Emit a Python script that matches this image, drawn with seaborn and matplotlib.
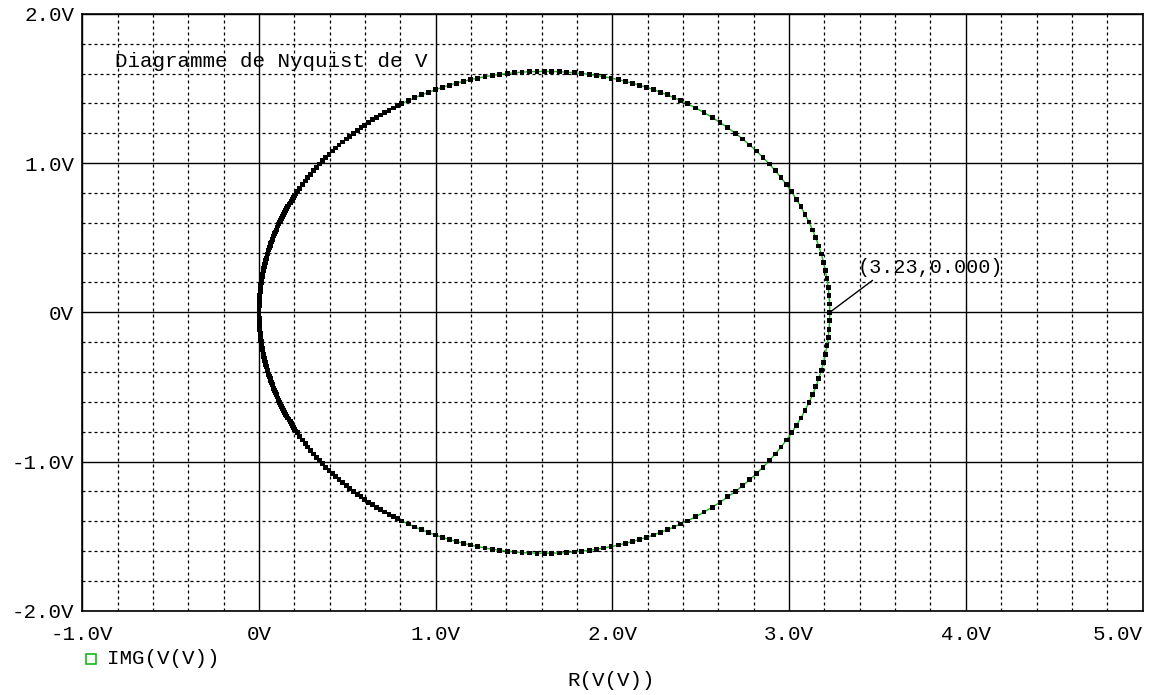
import pandas as pd
import matplotlib
matplotlib.use("Agg")
import matplotlib.pyplot as plt
from matplotlib.ticker import FixedLocator, MultipleLocator
from matplotlib.lines import Line2D
import seaborn as sns

# Nyquist trace of V: real and imaginary parts, low-frequency branch (Im > 0)
re_low_freq = [
    0.000, 0.000, 0.001, 0.001, 0.002, 0.002, 0.003, 0.004, 0.005, 0.006,
    0.007, 0.009, 0.010, 0.012, 0.014, 0.016, 0.018, 0.020, 0.022, 0.025,
    0.027, 0.030, 0.032, 0.035, 0.038, 0.041, 0.045, 0.048, 0.051, 0.055,
    0.059, 0.063, 0.067, 0.071, 0.075, 0.079, 0.083, 0.088, 0.093, 0.097,
    0.102, 0.107, 0.112, 0.118, 0.123, 0.128, 0.134, 0.140, 0.145, 0.151,
    0.157, 0.163, 0.170, 0.176, 0.182, 0.189, 0.196, 0.202, 0.209,
    0.216, 0.231, 0.245, 0.261, 0.276, 0.292, 0.308, 0.325, 0.342, 0.360,
    0.378, 0.396, 0.415, 0.434, 0.453, 0.473, 0.493, 0.514, 0.534, 0.556,
    0.577, 0.599, 0.621, 0.643, 0.666, 0.689, 0.712, 0.735, 0.759, 0.783,
    0.807, 0.844, 0.882, 0.920, 0.958, 0.997, 1.036, 1.076, 1.116, 1.156,
    1.197, 1.238, 1.279, 1.321, 1.362, 1.404, 1.446, 1.488, 1.530, 1.573,
    1.615, 1.657, 1.700, 1.742, 1.784, 1.826, 1.868, 1.909, 1.951, 1.992,
    2.033, 2.074, 2.114, 2.154, 2.194, 2.233, 2.272, 2.310, 2.348, 2.386,
    2.423, 2.471, 2.518, 2.564, 2.609, 2.653, 2.696, 2.737, 2.777, 2.815,
    2.852, 2.888, 2.922, 2.954, 2.985, 3.014, 3.041, 3.067, 3.090, 3.112,
    3.133, 3.151, 3.167, 3.182, 3.195, 3.205, 3.214, 3.221, 3.226, 3.229,
    3.230,
]
im_low_freq = [
    0.014, 0.028, 0.042, 0.056, 0.070, 0.085, 0.099, 0.113, 0.127, 0.141,
    0.155, 0.169, 0.183, 0.197, 0.211, 0.225, 0.239, 0.253, 0.267, 0.280,
    0.294, 0.308, 0.322, 0.336, 0.350, 0.363, 0.377, 0.391, 0.404, 0.418,
    0.432, 0.445, 0.459, 0.472, 0.486, 0.499, 0.512, 0.526, 0.539, 0.552,
    0.566, 0.579, 0.592, 0.605, 0.618, 0.631, 0.644, 0.657, 0.670, 0.683,
    0.695, 0.708, 0.721, 0.733, 0.746, 0.758, 0.771, 0.783, 0.795,
    0.808, 0.832, 0.856, 0.880, 0.903, 0.926, 0.949, 0.972, 0.994, 1.016,
    1.038, 1.060, 1.081, 1.101, 1.122, 1.142, 1.162, 1.181, 1.200, 1.219,
    1.237, 1.255, 1.273, 1.290, 1.307, 1.323, 1.339, 1.354, 1.370, 1.384,
    1.399, 1.419, 1.439, 1.458, 1.475, 1.492, 1.508, 1.522, 1.536, 1.548,
    1.560, 1.570, 1.580, 1.588, 1.595, 1.601, 1.606, 1.610, 1.613, 1.614,
    1.615, 1.614, 1.613, 1.610, 1.606, 1.601, 1.595, 1.588, 1.580, 1.570,
    1.560, 1.548, 1.536, 1.522, 1.508, 1.492, 1.475, 1.458, 1.439, 1.419,
    1.399, 1.370, 1.339, 1.307, 1.273, 1.237, 1.200, 1.162, 1.122, 1.081,
    1.038, 0.994, 0.949, 0.903, 0.856, 0.808, 0.758, 0.708, 0.657, 0.605,
    0.552, 0.499, 0.445, 0.391, 0.336, 0.280, 0.225, 0.169, 0.113, 0.056,
    0.000,
]

# High-frequency branch (Im < 0), continuing from the resonance point
re_high_freq = [
    3.229, 3.226, 3.221, 3.214, 3.205, 3.195, 3.182, 3.167, 3.151, 3.133,
    3.112, 3.090, 3.067, 3.041, 3.014, 2.985, 2.954, 2.922, 2.888, 2.852,
    2.815, 2.777, 2.737, 2.696, 2.653, 2.609, 2.564, 2.518, 2.471, 2.423,
    2.386, 2.348, 2.310, 2.272, 2.233, 2.194, 2.154, 2.114, 2.074, 2.033,
    1.992, 1.951, 1.909, 1.868, 1.826, 1.784, 1.742, 1.700, 1.657, 1.615,
    1.573, 1.530, 1.488, 1.446, 1.404, 1.362, 1.321, 1.279, 1.238, 1.197,
    1.156, 1.116, 1.076, 1.036, 0.997, 0.958, 0.920, 0.882, 0.844, 0.807,
    0.783, 0.759, 0.735, 0.712, 0.689, 0.666, 0.643, 0.621, 0.599, 0.577,
    0.556, 0.534, 0.514, 0.493, 0.473, 0.453, 0.434, 0.415, 0.396, 0.378,
    0.360, 0.342, 0.325, 0.308, 0.292, 0.276, 0.261, 0.245, 0.231, 0.216,
    0.209, 0.202, 0.196, 0.189, 0.182, 0.176, 0.170, 0.163, 0.157, 0.151,
    0.145, 0.140, 0.134, 0.128, 0.123, 0.118, 0.112, 0.107, 0.102, 0.097,
    0.093, 0.088, 0.083, 0.079, 0.075, 0.071, 0.067, 0.063, 0.059, 0.055,
    0.051, 0.048, 0.045, 0.041, 0.038, 0.035, 0.032, 0.030, 0.027, 0.025,
    0.022, 0.020, 0.018, 0.016, 0.014, 0.012, 0.010, 0.009, 0.007, 0.006,
    0.005, 0.004, 0.003, 0.002, 0.002, 0.001, 0.001, 0.000, 0.000,
]
im_high_freq = [
    -0.056, -0.113, -0.169, -0.225, -0.280, -0.336, -0.391, -0.445, -0.499, -0.552,
    -0.605, -0.657, -0.708, -0.758, -0.808, -0.856, -0.903, -0.949, -0.994, -1.038,
    -1.081, -1.122, -1.162, -1.200, -1.237, -1.273, -1.307, -1.339, -1.370, -1.399,
    -1.419, -1.439, -1.458, -1.475, -1.492, -1.508, -1.522, -1.536, -1.548, -1.560,
    -1.570, -1.580, -1.588, -1.595, -1.601, -1.606, -1.610, -1.613, -1.614, -1.615,
    -1.614, -1.613, -1.610, -1.606, -1.601, -1.595, -1.588, -1.580, -1.570, -1.560,
    -1.548, -1.536, -1.522, -1.508, -1.492, -1.475, -1.458, -1.439, -1.419, -1.399,
    -1.384, -1.370, -1.354, -1.339, -1.323, -1.307, -1.290, -1.273, -1.255, -1.237,
    -1.219, -1.200, -1.181, -1.162, -1.142, -1.122, -1.101, -1.081, -1.060, -1.038,
    -1.016, -0.994, -0.972, -0.949, -0.926, -0.903, -0.880, -0.856, -0.832, -0.808,
    -0.795, -0.783, -0.771, -0.758, -0.746, -0.733, -0.721, -0.708, -0.695, -0.683,
    -0.670, -0.657, -0.644, -0.631, -0.618, -0.605, -0.592, -0.579, -0.566, -0.552,
    -0.539, -0.526, -0.512, -0.499, -0.486, -0.472, -0.459, -0.445, -0.432, -0.418,
    -0.404, -0.391, -0.377, -0.363, -0.350, -0.336, -0.322, -0.308, -0.294, -0.280,
    -0.267, -0.253, -0.239, -0.225, -0.211, -0.197, -0.183, -0.169, -0.155, -0.141,
    -0.127, -0.113, -0.099, -0.085, -0.070, -0.056, -0.042, -0.028, -0.014,
]

x_ticks = [-1, 0, 1, 2, 3, 4, 5]
x_tick_labels = ["-1.0V", "0V", "1.0V", "2.0V", "3.0V", "4.0V", "5.0V"]
y_ticks = [-2, -1, 0, 1, 2]
y_tick_labels = ["-2.0V", "-1.0V", "0V", "1.0V", "2.0V"]

title_text = "Diagramme de Nyquist de V"
trace_name = "IMG(V(V))"
x_axis_name = "R(V(V))"

sns.set_style("white")
plt.rcParams["font.family"] = ["Liberation Mono", "DejaVu Sans"]

trace = pd.DataFrame({
    "re": re_low_freq + re_high_freq,
    "im": im_low_freq + im_high_freq,
})

trace_green = "#16b816"

fig = plt.figure(figsize=(11.55, 6.95), dpi=100)
ax = fig.add_axes([0.0713, 0.1213, 0.9179, 0.8586])

ax.set_xlim(-1, 5)
ax.set_ylim(-2, 2)
ax.xaxis.set_major_locator(FixedLocator(x_ticks))
ax.set_xticklabels(x_tick_labels)
ax.yaxis.set_major_locator(FixedLocator(y_ticks))
ax.set_yticklabels(y_tick_labels)
ax.xaxis.set_minor_locator(MultipleLocator(0.2))
ax.yaxis.set_minor_locator(MultipleLocator(0.2))

ax.set_axisbelow(True)
ax.grid(which="major", color="black", lw=1.0, ls="-")
ax.grid(which="minor", color="black", lw=0.9, ls=(0, (2.4, 2.4)))

ax.tick_params(which="major", direction="out", length=5, width=1.0,
               color="black", labelsize=15, labelcolor="black")
ax.tick_params(axis="y", which="major", pad=1)
ax.tick_params(axis="x", which="major", pad=5)
ax.tick_params(which="minor", length=0)
for sp in ax.spines.values():
    sp.set_color("black")
    sp.set_linewidth(1.2)

# the rightmost x label sits inside the figure edge
ax.get_xticklabels()[-1].set_horizontalalignment("right")

# connecting trace, then the sampled points on top
sns.lineplot(data=trace, x="re", y="im", sort=False, estimator=None,
             color=trace_green, lw=1.0, ax=ax, zorder=3)
sns.scatterplot(data=trace, x="re", y="im", marker="s", s=12, color="black",
                edgecolor="none", linewidth=0, ax=ax, zorder=4, legend=False)
ax.set_xlabel("")
ax.set_ylabel("")

ax.text(0.0308, 0.9196, title_text, transform=ax.transAxes, fontsize=15,
        ha="left", va="center", color="black")

# cursor label at the resonance point (largest real part)
peak = trace["re"].idxmax()
peak_re = trace.loc[peak, "re"]
peak_im = trace.loc[peak, "im"]
ax.annotate(f"({peak_re:.2f},{abs(peak_im):.3f})", xy=(peak_re, peak_im),
            xytext=(3.39, 0.30), textcoords="data", fontsize=14.5,
            ha="left", va="center", color="black", zorder=5,
            arrowprops=dict(arrowstyle="-", color="black", lw=1.0,
                            shrinkA=0, shrinkB=0, relpos=(0.13, 0.0)))

# trace legend entry and x-axis variable below the plot
fig.add_artist(Line2D([91 / 1155], [1 - 659 / 695], transform=fig.transFigure,
                      marker="s", ms=6.5, mfc="none", mec=trace_green,
                      mew=1.2, ls="none"))
fig.text(107 / 1155, 1 - 658 / 695, trace_name, fontsize=15,
         ha="left", va="center", color="black")
fig.text(611.5 / 1155, 1 - 680 / 695, x_axis_name, fontsize=15,
         ha="center", va="center", color="black")

fig.savefig("out.png", dpi=100)
